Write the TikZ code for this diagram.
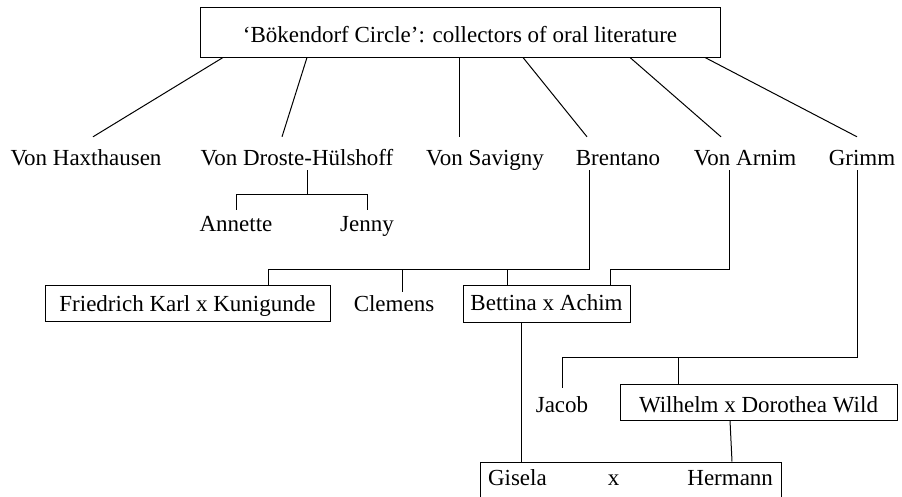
\documentclass[tikz,border=0pt]{standalone}
\usepackage{fontspec}
\setmainfont{Liberation Serif}
\begin{document}
\begin{tikzpicture}[x=1pt,y=-1pt,
  lbl/.style={inner sep=0pt,text height=16pt,text depth=5pt,anchor=base},
  famb/.style={draw,line width=1pt,inner ysep=0pt,inner xsep=0pt,anchor=base},
  conn/.style={line width=1pt}]
\fontsize{23}{27}\selectfont
\useasboundingbox (0,0) rectangle (902,496);
% top box
\node[famb,minimum width=520pt,text height=35pt,text depth=15pt] (top) at (460,42) {`Bökendorf Circle': collectors of oral literature};
% first row
\node[lbl] (hax) at (86,165) {Von Haxthausen};
\node[lbl] (dro) at (297,165) {Von Droste-Hülshoff};
\node[lbl] (sav) at (485,165) {Von Savigny};
\node[lbl] (bre) at (618,165) {Brentano};
\node[lbl] (arn) at (745,165) {Von Arnim};
\node[lbl] (gri) at (862,165) {Grimm};
% second row
\node[lbl] (ann) at (236,231) {Annette};
\node[lbl] (jen) at (367,231) {Jenny};
% third row
\node[famb,minimum width=285pt,text height=26pt,text depth=10pt] (fk) at (187.5,311) {Friedrich Karl x Kunigunde};
\node[lbl] (cle) at (394,311) {Clemens};
\node[famb,minimum width=167pt,text height=25pt,text depth=12pt] (bet) at (546.5,310) {Bettina x Achim};
% fourth row
\node[lbl] (jac) at (562,412) {Jacob};
\node[famb,minimum width=277pt,text height=28pt,text depth=8pt] (wil) at (758.5,412) {Wilhelm x Dorothea Wild};
% fifth row
\node[famb,minimum width=301pt,text height=23pt,text depth=16pt] (gis) at (630.5,485) {\makebox[285pt][l]{\rlap{Gisela}\hspace{120pt}x\hfill Hermann}};
% connectors from top box
\draw[conn] ([xshift=-237pt]top.south) -- ([xshift=7pt,yshift=12pt]hax.north);
\draw[conn] ([xshift=-153pt]top.south) -- ([xshift=-15pt,yshift=12pt]dro.north);
\draw[conn] ([xshift=-1pt]top.south) -- ([xshift=-26pt,yshift=12pt]sav.north);
\draw[conn] ([xshift=63pt]top.south) -- ([xshift=-31pt,yshift=12pt]bre.north);
\draw[conn] ([xshift=170pt]top.south) -- ([xshift=-24pt,yshift=12pt]arn.north);
\draw[conn] ([xshift=245pt]top.south) -- ([xshift=-5pt,yshift=12pt]gri.north);
% Droste-Hulshoff children
\draw[conn] ([xshift=10pt]dro.south) -- ++(0,25);
\draw[conn] ([yshift=5pt]ann.north) -- ++(0,-15) -| ([yshift=5pt]jen.north);
% Brentano children
\draw[conn] ([xshift=-29pt]bre.south) -- ++(0,99) -| ([xshift=80.5pt]fk.north);
\draw[conn] ([xshift=8pt,yshift=3pt]cle.north) -- ++(0,-23);
\draw[conn] ([xshift=-39.5pt]bet.north) -- ++(0,-16);
% Von Arnim
\draw[conn] ([xshift=-16pt]arn.south) -- ++(0,99) -| ([xshift=63.5pt]bet.north);
% Bettina to Gisela
\draw[conn] ([xshift=-25.5pt]bet.south) -- ([xshift=-109.5pt]gis.north);
% Grimm children
\draw[conn] ([xshift=-5pt]gri.south) -- ++(0,187) -| ([yshift=8pt]jac.north);
\draw[conn] ([xshift=-80.5pt]wil.north) -- ++(0,-27);
% Wilhelm to Hermann
\draw[conn] ([xshift=-28.5pt]wil.south) -- ([xshift=101.5pt]gis.north);
\end{tikzpicture}
\end{document}
